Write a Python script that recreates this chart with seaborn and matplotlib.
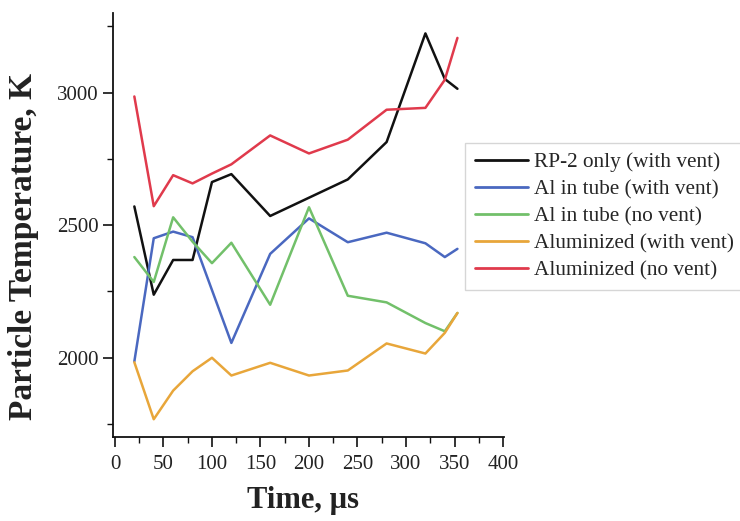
import matplotlib
matplotlib.use("Agg")
import matplotlib.pyplot as plt
import seaborn as sns
import pandas as pd
from matplotlib.ticker import MultipleLocator

time_us = [20, 40, 60, 80, 100, 120, 160, 200, 240, 280, 320, 340, 353]
rp2_with_vent = [2570, 2237, 2368, 2368, 2662, 2692, 2534, 2603, 2672, 2813, 3223, 3051, 3014]
al_tube_with_vent = [1985, 2450, 2475, 2454, 2255, 2055, 2391, 2525, 2435, 2471, 2431, 2379, 2410]
al_tube_no_vent = [2379, 2285, 2529, 2437, 2356, 2433, 2199, 2567, 2233, 2208, 2130, 2099, 2168]
aluminized_with_vent = [1982, 1767, 1875, 1948, 1999, 1932, 1980, 1932, 1951, 2053, 2015, 2093, 2168]
aluminized_no_vent = [2985, 2571, 2688, 2657, 2694, 2729, 2838, 2770, 2822, 2935, 2942, 3048, 3206]

series_names = ["RP-2 only (with vent)", "Al in tube (with vent)", "Al in tube (no vent)",
                "Aluminized (with vent)", "Aluminized (no vent)"]
series_values = [rp2_with_vent, al_tube_with_vent, al_tube_no_vent,
                 aluminized_with_vent, aluminized_no_vent]
colors = ["#111111", "#4a68c0", "#72c06a", "#e8a63a", "#e03a4c"]

# blue line has no vertex at 100 in the picture; drop that value so the line is straight 80->120
rows = []
for name, vals in zip(series_names, series_values):
    for t, v in zip(time_us, vals):
        if name == "Al in tube (with vent)" and t == 100:
            continue
        rows.append({"Time": t, "Temperature": v, "Series": name})
df = pd.DataFrame(rows)

sns.set_theme(style="white")
plt.rcParams["font.family"] = ["Liberation Serif", "DejaVu Serif"]

fig = plt.figure(figsize=(7.4, 5.21), dpi=100)
ax = fig.add_axes([113 / 740, 1 - 437 / 521, (504 - 113) / 740, (437 - 13) / 521])

sns.lineplot(data=df, x="Time", y="Temperature", hue="Series", hue_order=series_names,
             palette=colors, linewidth=1.8, ax=ax, sort=False, estimator=None, legend=True)

ax.set_xlim(-2, 401)
ax.set_ylim(1700, 3300)
ax.xaxis.set_major_locator(MultipleLocator(50))
ax.xaxis.set_minor_locator(MultipleLocator(25))
ax.yaxis.set_major_locator(MultipleLocator(500))
ax.yaxis.set_minor_locator(MultipleLocator(250))

for s in ["top", "right"]:
    ax.spines[s].set_visible(False)
for s in ["left", "bottom"]:
    ax.spines[s].set_color("#111111")
    ax.spines[s].set_linewidth(1.3)

ax.tick_params(axis="both", which="major", direction="out", length=7, width=1.2,
               colors="#111111", labelsize=15, left=True, bottom=True)
ax.tick_params(axis="x", which="major", pad=6)
ax.tick_params(axis="both", which="minor", direction="out", length=4, width=1.0,
               colors="#111111", left=True, bottom=True)
for lab in ax.get_xticklabels() + ax.get_yticklabels():
    lab.set_color("#222222")

ax.set_xlabel("Time, µs", fontsize=22, fontweight="bold", color="#222222")
ax.set_ylabel("Particle Temperature, K", fontsize=24, fontweight="bold", color="#222222")
ax.yaxis.set_label_coords(-0.19, 0.45)
ax.xaxis.set_label_coords(0.485, -0.115)

handles, labels = ax.get_legend_handles_labels()
ax.get_legend().remove()
leg = fig.legend(handles, labels, loc="upper left",
                 bbox_to_anchor=(465 / 740, 1 - 143 / 521),
                 fontsize=15.3, frameon=True, fancybox=False, handlelength=2.5,
                 handletextpad=0.3, labelspacing=0.33, borderpad=0.45,
                 borderaxespad=0.0)
leg.get_frame().set_edgecolor("#cccccc")
leg.get_frame().set_linewidth(1.0)
for line in leg.get_lines():
    line.set_linewidth(2.0)

fig.savefig("out.png", dpi=100)
